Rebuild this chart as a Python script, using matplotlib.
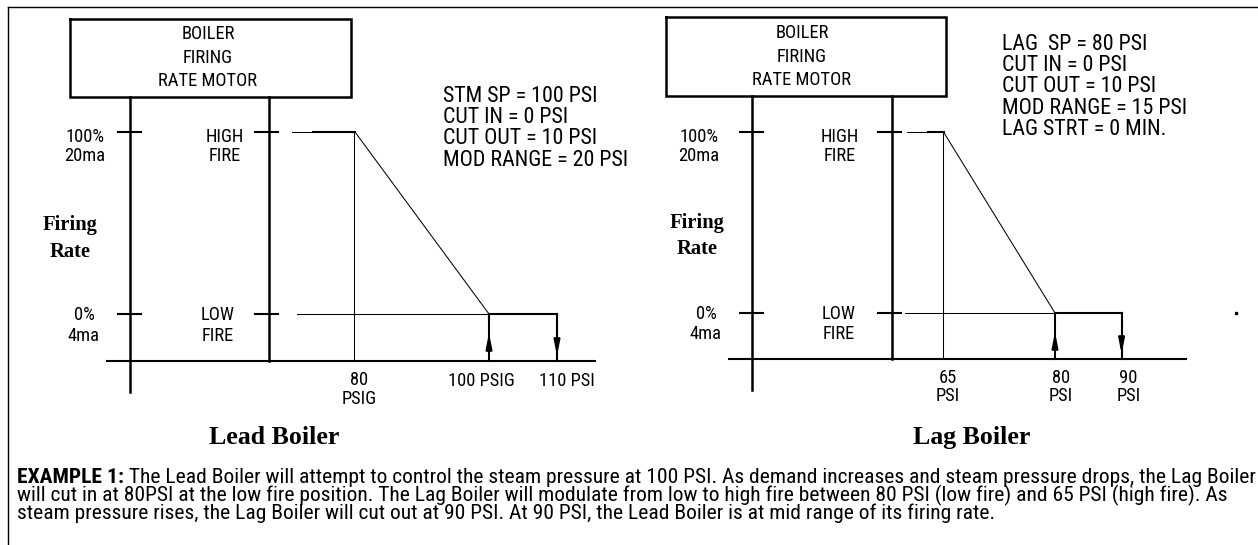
import matplotlib.pyplot as plt

# ---- data ----
lead_psi = [80, 100, 110]
lead_psi_labels = [["80", "PSIG"], ["100 PSIG"], ["110 PSI"]]
lead_settings = ["STM SP = 100 PSI", "CUT IN = 0 PSI", "CUT OUT = 10 PSI", "MOD RANGE = 20 PSI"]

lag_psi = [65, 80, 90]
lag_psi_labels = [["65", "PSI"], ["80", "PSI"], ["90", "PSI"]]
lag_settings = ["LAG  SP = 80 PSI", "CUT IN = 0 PSI", "CUT OUT = 10 PSI", "MOD RANGE = 15 PSI",
                "LAG STRT = 0 MIN."]

rate_labels = [["100%", "20ma"], ["0%", "4ma"]]
motor_labels = [["HIGH", "FIRE"], ["LOW", "FIRE"]]
box_lines = ["BOILER", "FIRING", "RATE MOTOR"]
titles = ["Lead Boiler", "Lag Boiler"]

note_bold = "EXAMPLE 1:"
note_lines = [
    " The Lead Boiler will attempt to control the steam pressure at 100 PSI. As demand increases and steam pressure drops, the Lag Boiler",
    "will cut in at 80PSI at the low fire position. The Lag Boiler will modulate from low to high fire between 80 PSI (low fire) and 65 PSI (high fire). As",
    "steam pressure rises, the Lag Boiler will cut out at 90 PSI. At 90 PSI, the Lead Boiler is at mid range of its firing rate.",
]

SANS = dict(family=['Roboto Condensed', 'DejaVu Sans Condensed', 'DejaVu Sans'], fontstretch='condensed')
SERIF = dict(family=['Liberation Serif', 'DejaVu Serif'], weight='bold')

fig = plt.figure(figsize=(12.58, 5.45), dpi=100)
ax = fig.add_axes([0, 0, 1, 1])
ax.set_xlim(0, 1258)
ax.set_ylim(545, 0)
ax.axis('off')
renderer = fig.canvas.get_renderer()


def width_at10(s, **kw):
    t = ax.text(0, 0, s, fontsize=10, **kw)
    w = t.get_window_extent(renderer).width
    t.remove()
    return w


# font sizes chosen so text widths match the reference
label_fs = 10 * 99 / width_at10("RATE MOTOR", **SANS)
set_fs = 10 * 185 / width_at10("MOD RANGE = 20 PSI", **SANS)
title_fs = 10 * 131 / width_at10("Lead Boiler", **SERIF)
firing_fs = 10 * 55 / width_at10("Firing", **SERIF)
note_fs = 10 * 1230 / (width_at10(note_bold, weight='bold', **SANS) + width_at10(note_lines[0], **SANS))

BOX_LW = 1.8
THICK = 1.5
THIN = 0.75

# outer frame (top + left)
ax.plot([8, 1258], [7, 7], color='k', lw=1.0)
ax.plot([8, 8], [7, 545], color='k', lw=1.0)

lead_layout = dict(box=(70, 351, 19, 97), box_text=(208, [39, 63, 86]), v1=130, v2=269, axis_y=361,
                   axis_x=(107, 595), y_hi=132, y_lo=314, rate_x=(85, 84), motor_x=(224.5, 217.6),
                   hi_start=292, lo_start=297, psi_x=[354, 489, 557], label_x=[359, 481.6, 567],
                   label_y=(385, 404), firing=(70, 230, 257), settings=(443, 101.7), title=(274.5, 444),
                   lo_text=(320, 341))
lag_layout = dict(box=(665.5, 945.5, 17, 96), box_text=(802, [38, 61.5, 85]), v1=751.5, v2=892, axis_y=359,
                  axis_x=(729, 1186), y_hi=132, y_lo=313, rate_x=(699, 706), motor_x=(840, 838.5),
                  hi_start=907, lo_start=905, psi_x=[942.5, 1055, 1121.6], label_x=[948, 1060.6, 1128.5],
                  label_y=(383, 401), firing=(697.5, 228, 254), settings=(1001.6, 49.7), title=(971.5, 444),
                  lo_text=(319, 339))


def panel(L, psi_labels, settings, title):
    bl, br, bt, bb = L['box']
    ax.plot([bl, br, br, bl, bl], [bt, bt, bb, bb, bt], color='k', lw=BOX_LW, solid_joinstyle='miter')
    cx, ys = L['box_text']
    for s, y in zip(box_lines, ys):
        ax.text(cx, y, s, ha='center', va='baseline', fontsize=label_fs, **SANS)

    v1, v2, ay = L['v1'], L['v2'], L['axis_y']
    y_hi, y_lo = L['y_hi'], L['y_lo']
    ax.plot([v1, v1], [bb, ay + 31], color='k', lw=BOX_LW)
    ax.plot([v2, v2], [bb, ay], color='k', lw=BOX_LW)
    ax.plot(L['axis_x'], [ay, ay], color='k', lw=THICK)
    for y in (y_hi, y_lo):
        ax.plot([v1 - 12, v1 + 11], [y, y], color='k', lw=THICK)
        ax.plot([v2 - 14, v2 + 9], [y, y], color='k', lw=THICK)

    for (a, b), x, (y1, y2) in zip(rate_labels, L['rate_x'], [(142, 161), L['lo_text']]):
        ax.text(x, y1, a, ha='center', va='baseline', fontsize=label_fs, **SANS)
        ax.text(x, y2, b, ha='center', va='baseline', fontsize=label_fs, **SANS)
    for (a, b), x, (y1, y2) in zip(motor_labels, L['motor_x'], [(142, 161), L['lo_text']]):
        ax.text(x, y1, a, ha='center', va='baseline', fontsize=label_fs, **SANS)
        ax.text(x, y2, b, ha='center', va='baseline', fontsize=label_fs, **SANS)

    fx, fy1, fy2 = L['firing']
    ax.text(fx, fy1, "Firing", ha='center', va='baseline', fontsize=firing_fs, **SERIF)
    ax.text(fx, fy2, "Rate", ha='center', va='baseline', fontsize=firing_fs, **SERIF)

    xh, xl, xo = L['psi_x']
    # firing-rate curve: high fire, modulation ramp, low fire / cut in / cut out
    ax.plot([L['hi_start'], L['hi_start'] + 21], [y_hi, y_hi], color='k', lw=THIN)
    ax.plot([L['hi_start'] + 21, xh + 1], [y_hi, y_hi], color='k', lw=THICK)
    ax.plot([xh, xh], [y_hi, ay], color='k', lw=THIN)
    ax.plot([xh + 1, xl], [y_hi, y_lo], color='k', lw=THIN)
    ax.plot([L['lo_start'], xl], [y_lo, y_lo], color='k', lw=THIN)
    ax.plot([xl, xo], [y_lo, y_lo], color='k', lw=THICK, solid_joinstyle='miter')
    ax.plot([xl, xl], [ay, y_lo], color='k', lw=THICK)
    ax.plot([xo, xo], [y_lo, ay], color='k', lw=THICK)
    arrow = dict(arrowstyle='-|>,head_length=0.9,head_width=0.18', color='k', lw=THICK, shrinkA=0, shrinkB=0)
    ax.annotate('', xy=(xl, y_lo + 19), xytext=(xl, y_lo + 35), arrowprops=arrow)
    ax.annotate('', xy=(xo, ay - 5), xytext=(xo, ay - 22), arrowprops=arrow)

    for x, lab in zip(L['label_x'], psi_labels):
        for k, s in enumerate(lab):
            y = L['label_y'][k] if len(lab) > 1 else L['label_y'][0] + 1
            ax.text(x, y, s, ha='center', va='baseline', fontsize=label_fs, **SANS)

    sx, sy = L['settings']
    for k, s in enumerate(settings):
        ax.text(sx, sy + 21.3 * k, s, ha='left', va='baseline', fontsize=set_fs, **SANS)

    tx, ty = L['title']
    ax.text(tx, ty, title, ha='center', va='baseline', fontsize=title_fs, **SERIF)


panel(lead_layout, lead_psi_labels, lead_settings, titles[0])
panel(lag_layout, lag_psi_labels, lag_settings, titles[1])

# stray dot at the right of the lag diagram
ax.plot([1236], [313], marker='s', ms=1.5, color='k')

# explanatory note
bold = ax.text(17, 483, note_bold, ha='left', va='baseline', weight='bold', fontsize=note_fs, **SANS)
ax.annotate(note_lines[0], xy=(1, 0), xycoords=bold, ha='left', va='bottom', fontsize=note_fs, **SANS)
for k, s in enumerate(note_lines[1:]):
    ax.text(17, 501 + 18 * k, s, ha='left', va='baseline', fontsize=note_fs, **SANS)

fig.savefig("out.png", dpi=100)
